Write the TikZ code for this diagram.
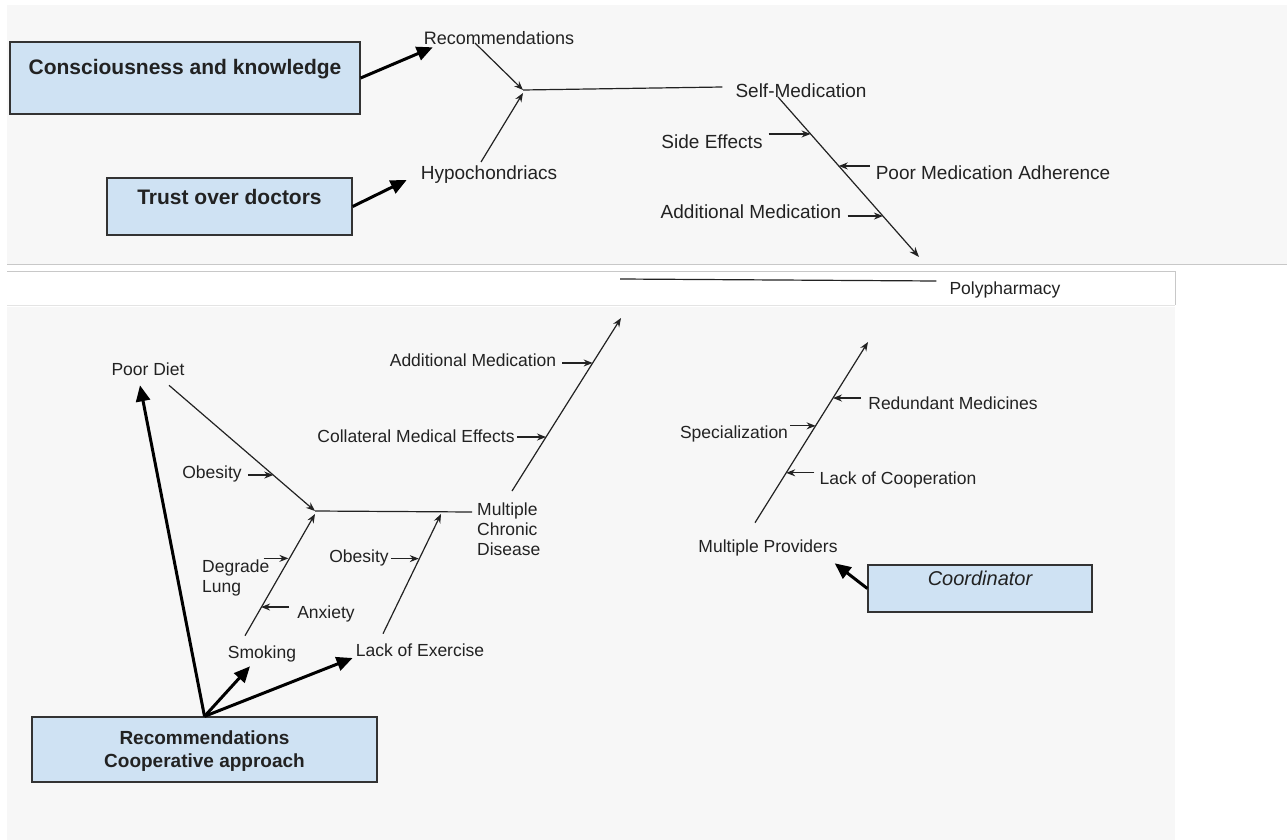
\documentclass[tikz,border=0pt]{standalone}
\usepackage{fontspec}
\setmainfont{Liberation Sans}
\usetikzlibrary{arrows.meta,calc}
\definecolor{bg}{HTML}{F7F7F7}
\definecolor{boxfill}{HTML}{CFE2F3}
\definecolor{boxline}{HTML}{333333}
\definecolor{txt}{HTML}{222222}
\definecolor{ln}{HTML}{222222}
\definecolor{sep}{HTML}{C8C8C8}
\definecolor{sepl}{HTML}{E4E4E4}
\begin{document}
\begin{tikzpicture}[x=1pt,y=-1pt,
 lbl/.style={font=\fontsize{17.5}{20}\selectfont, text=txt, inner sep=0pt, text height=15pt, text depth=1.2pt},
 lblt/.style={lbl, font=\fontsize{19}{22}\selectfont, text height=16.1pt, text depth=1.5pt},
 multi/.style={font=\fontsize{17.5}{20}\selectfont, text=txt, inner sep=0pt, align=left, anchor=west},
 box/.style={draw=boxline, fill=boxfill, line width=1.3pt, inner sep=0pt, text=txt},
 bone/.style={draw=ln, line width=1.2pt},
 cause/.style={bone, -{Stealth[length=9pt,width=7pt]}},
 big/.style={draw=black, line width=3pt, -{Triangle[length=16pt,width=14pt]}},
]
\useasboundingbox (0,0) rectangle (1287,840);
\fill[white] (0,0) rectangle (1287,840);
% panels
\fill[bg] (7,5) rectangle (1287,264);
\draw[sep, line width=1pt] (7,264) -- (1287,264);
\draw[sep, line width=0.8pt] (7,271) -- (1175,271) -- (1175,305);
\draw[sepl, line width=0.8pt] (7,305) -- (1175,305);
\fill[bg] (7,307) rectangle (1175,840);

% ---------- top part ----------
\node[box, minimum width=350pt, font=\bfseries\fontsize{21}{24}\selectfont, text height=32.5pt, text depth=39.5pt] (ck) at (185,78) {Consciousness and knowledge};
\node[box, minimum width=245pt, font=\bfseries\fontsize{21}{24}\selectfont, text height=26.5pt, text depth=30.5pt] (tr) at (229.5,206.5) {Trust over doctors};

\node[lbl, font=\fontsize{18}{21}\selectfont] (rec) at (499,38) {Recommendations};
\node[lblt] (hy) at (489,172) {Hypochondriacs};
\node[lblt] (selfmed) at (801,90) {Self-Medication};
\node[lblt] (se) at (712,141) {Side Effects};
\node[lblt] (pma) at (993,172) {Poor Medication Adherence};
\node[lblt] (am1) at (751,211) {Additional Medication};
\node[lbl] (poly) at (1005,288) {Polypharmacy};

\coordinate (j1) at (523,90);
\draw[cause] ($(rec.center)+(-24,5)$) -- (j1);
\draw[cause] ($(hy.north)+(-8,-1)$) -- ($(j1)+(0,3)$);
\draw[bone] (j1) -- ($(selfmed.west)+(-13,-3)$);
\coordinate (s0) at (778,97);
\coordinate (s1) at (919,257);
\draw[bone, -{Stealth[length=10pt,width=7.5pt]}] (s0) -- (s1);
\coordinate (a1) at ($(s0)!0.231!(s1)$);
\coordinate (a2) at ($(s0)!0.431!(s1)$);
\coordinate (a3) at ($(s0)!0.744!(s1)$);
\draw[cause] ($(se.east |- a1)+(6,0)$) -- (a1);
\draw[cause] ($(pma.west |- a2)+(-6,0)$) -- (a2);
\draw[cause] ($(am1.east |- a3)+(6,0)$) -- (a3);

\draw[big] (ck.east) -- ($(rec.south west)+(9,1)$);
\draw[big] (tr.east) -- ($(hy.west)+(-14,8)$);

\coordinate (pl) at (620,279);
\draw[bone] (pl) -- ($(poly.west)+(-13,-7)$);

% ---------- bottom left ----------
\node[box, minimum width=345pt, minimum height=65pt, align=center, font=\bfseries\fontsize{19}{23}\selectfont, text depth=0pt] (rc) at (204.5,749.5) {Recommendations\\Cooperative approach};

\node[lbl] (pd) at (148,369) {Poor Diet};
\node[lbl] (ob1) at (212,472) {Obesity};
\node[lbl] (am2) at (473,360) {Additional Medication};
\node[lbl] (cme) at (416,436) {Collateral Medical Effects};
\node[multi] (mcd) at (477,529) {Multiple\\Chronic\\Disease};
\node[multi] (deg) at (202,578) {Degrade\\Lung};
\node[lbl] (ob2) at (359,556) {Obesity};
\node[lbl] (anx) at (326,612) {Anxiety};
\node[lbl] (smk) at (262,652) {Smoking};
\node[lbl] (loe) at (420,650) {Lack of Exercise};

\coordinate (j2) at (315,511);
\coordinate (p0) at ($(pd.south)+(21,8)$);
\draw[cause] (p0) -- (j2);
\coordinate (b1) at ($(p0)!0.714!(j2)$);
\draw[cause] ($(ob1.east |- b1)+(6,0)$) -- (b1);
\coordinate (e2) at ($(mcd.west)+(-5,-17)$);
\draw[bone] (j2) -- (e2);

\coordinate (k0) at ($(smk.north)+(-17,-8)$);
\draw[cause] (k0) -- ($(j2)+(0,3)$);
\coordinate (k1) at ($(k0)!0.62!(j2)$);
\coordinate (k2) at ($(k0)!0.23!(j2)$);
\draw[cause] ($(deg.north east |- k1)+(-6,0)$) -- (k1);
\draw[cause] ($(anx.west |- k2)+(-8,0)$) -- (k2);

\coordinate (l0) at ($(loe.north)+(-37,-8)$);
\coordinate (j3) at (441,512);
\draw[cause] (l0) -- ($(j3)+(0,2)$);
\coordinate (l1) at ($(l0)!0.617!(j3)$);
\draw[cause] ($(ob2.east |- l1)+(2,0)$) -- (l1);

\coordinate (u0) at (512,491);
\coordinate (u1) at (621,318);
\draw[cause] (u0) -- (u1);
\coordinate (u2) at ($(u0)!0.74!(u1)$);
\coordinate (u3) at ($(u0)!0.312!(u1)$);
\draw[cause] ($(am2.east |- u2)+(6,0)$) -- (u2);
\draw[cause] ($(cme.east |- u3)+(2,0)$) -- (u3);

\draw[big] (rc.north) -- ($(pd.south)+(-8,8)$);
\draw[big] (rc.north) -- ($(smk.south)+(-12,6)$);
\draw[big] (rc.north) -- ($(loe.west)+(-3,8)$);

% ---------- bottom right ----------
\node[lbl] (mp) at (768,546) {Multiple Providers};
\node[lbl] (rm) at (953,403) {Redundant Medicines};
\node[lbl] (spec) at (734,432) {Specialization};
\node[lbl] (loc) at (898,478) {Lack of Cooperation};
\node[box, minimum width=224pt, font=\itshape\fontsize{20}{24}\selectfont, text height=20pt, text depth=27pt] (co) at (980,588.5) {Coordinator};

\coordinate (m0) at ($(mp.north)+(-13,-15)$);
\coordinate (m1) at (868,342);
\draw[cause] (m0) -- (m1);
\coordinate (m2) at ($(m0)!0.69!(m1)$);
\coordinate (m3) at ($(m0)!0.536!(m1)$);
\coordinate (m4) at ($(m0)!0.276!(m1)$);
\draw[cause] ($(rm.west |- m2)+(-7,0)$) -- (m2);
\draw[cause] ($(spec.east |- m3)+(2,0)$) -- (m3);
\draw[cause] ($(loc.west |- m4)+(-5,0)$) -- (m4);

\draw[big] (co.west) -- ($(mp.south east)+(-3,9)$);
\end{tikzpicture}
\end{document}
